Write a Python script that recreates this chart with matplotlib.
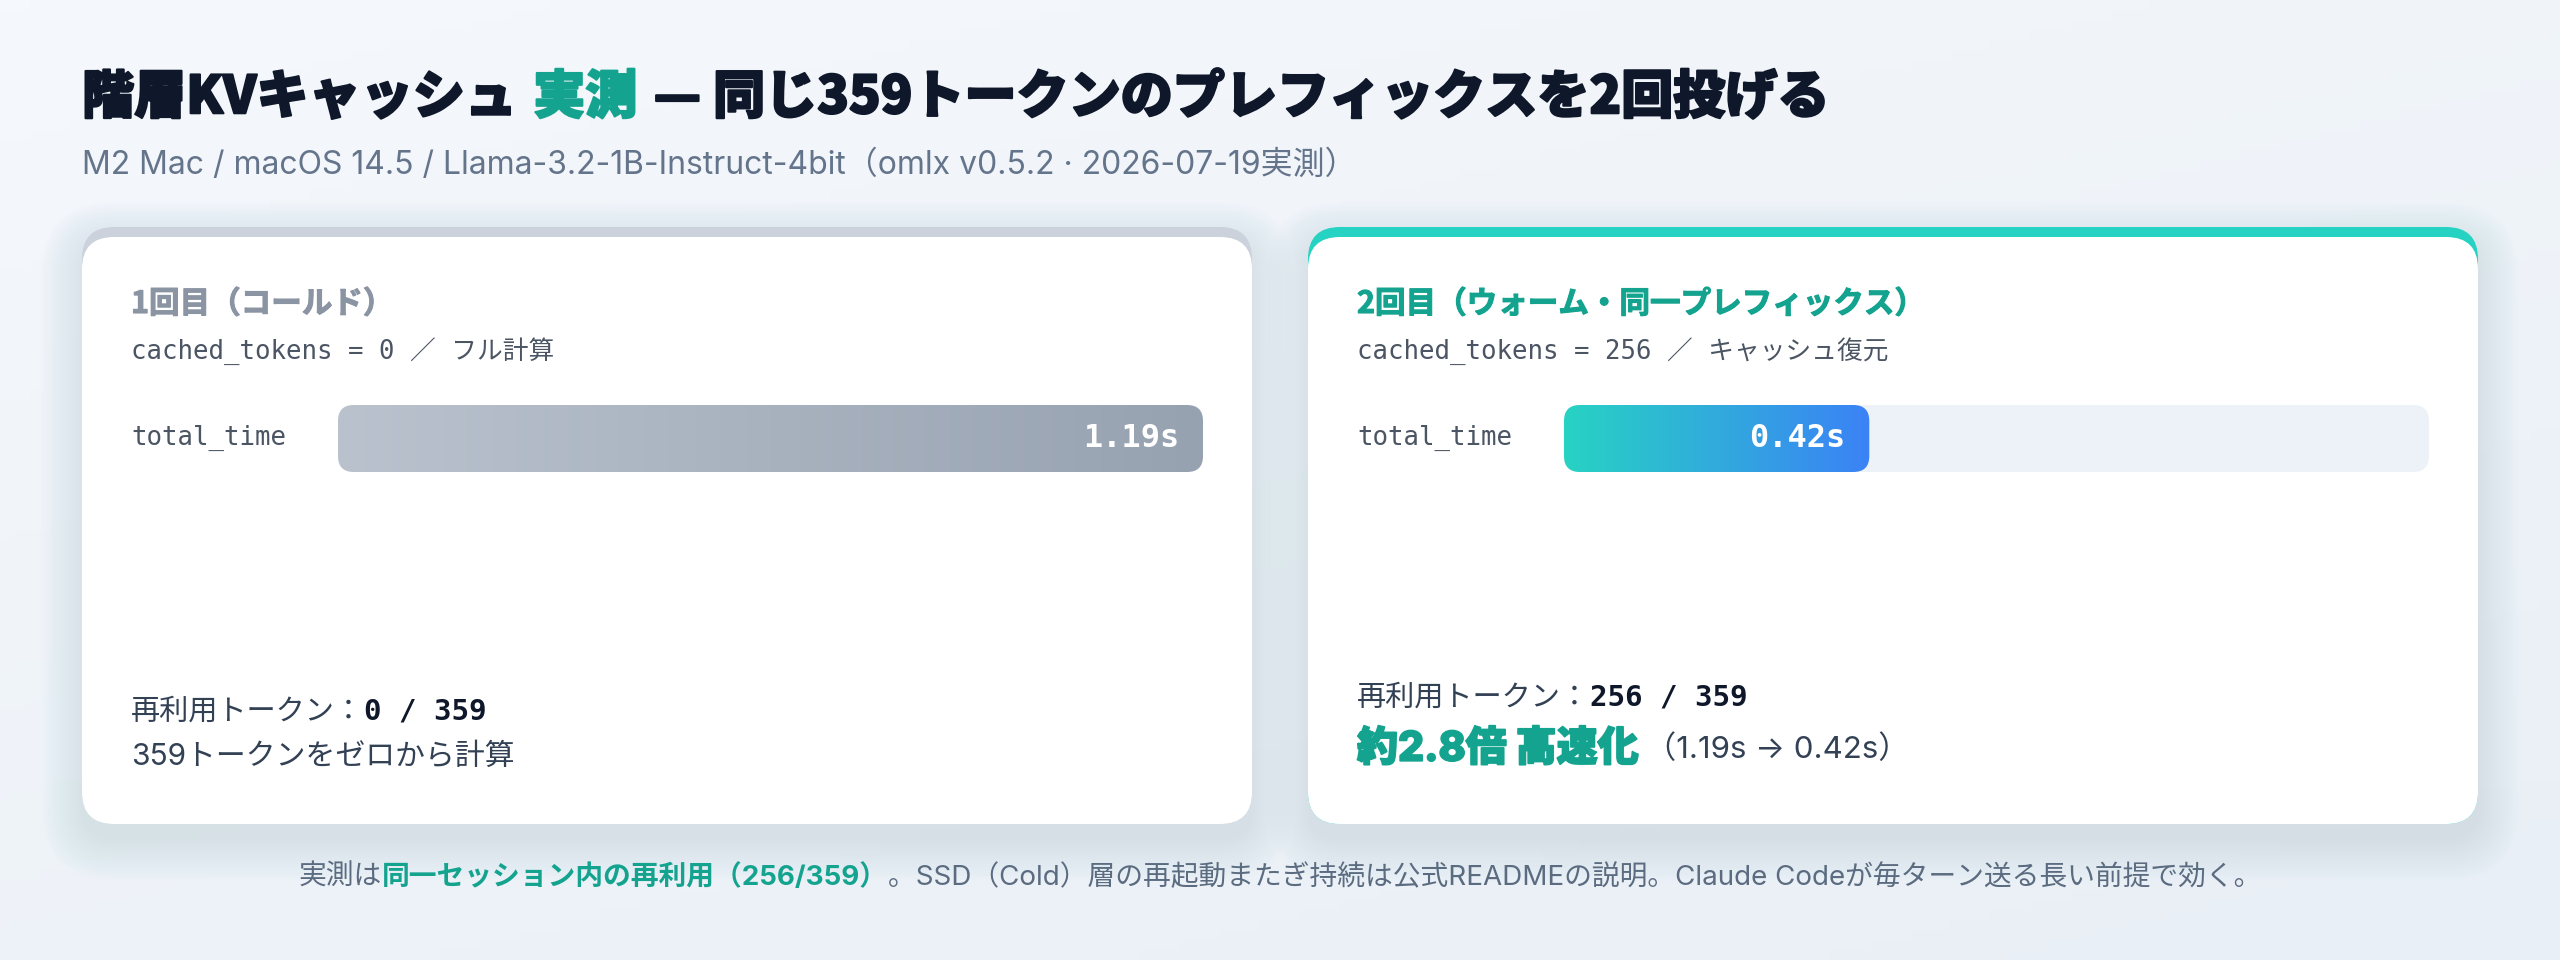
import numpy as np
import matplotlib
matplotlib.use("Agg")
import matplotlib.pyplot as plt
from matplotlib.patches import FancyBboxPatch
from matplotlib.colors import LinearSegmentedColormap
import matplotlib.transforms as mtransforms
import matplotlib.patheffects as pe

# ---------------- data ----------------
run_titles = ["1回目（コールド）", "2回目（ウォーム・同一プレフィックス）"]
cache_notes = ["フル計算", "キャッシュ復元"]
total_time = [1.19, 0.42]          # seconds
cached_tokens = [0, 256]
prefix_tokens = 359
metric_label = "total_time"

title_parts = ["階層KVキャッシュ", "実測", "— 同じ359トークンのプレフィックスを2回投げる"]
subtitle = "M2 Mac / macOS 14.5 / Llama-3.2-1B-Instruct-4bit（omlx v0.5.2 · 2026-07-19実測）"
left_note = "359トークンをゼロから計算"
speedup_text = "約2.8倍 高速化"
speedup_detail = "（1.19s → 0.42s）"
footer_parts = ["実測は", "同一セッション内の再利用（256/359）",
                "。SSD（Cold）層の再起動またぎ持続は公式READMEの説明。Claude Codeが毎ターン送る長い前提で効く。"]

# ---------------- style ----------------
JP = ["Noto Sans CJK JP", "DejaVu Sans"]
LJP = ["Inter", "Noto Sans CJK JP", "DejaVu Sans"]
MONO = ["DejaVu Sans Mono", "Noto Sans CJK JP"]
DARK = "#0f172a"
TEAL = "#14a38f"
GRAY_TITLE = "#8b94a3"
MONO_COL = "#4b5563"
BODY = "#334155"
FOOT = "#5b6b80"

W, H = 2560, 960
fig = plt.figure(figsize=(25.6, 9.6), dpi=100)
ax = fig.add_axes([0, 0, 1, 1])
ax.set_xlim(0, W)
ax.set_ylim(H, 0)
ax.axis("off")

# background gradient
gx = np.linspace(0, 1, 256)
gy = np.linspace(0, 1, 96)
G = 0.6 * gy[:, None] + 0.4 * gx[None, :]
bg_cmap = LinearSegmentedColormap.from_list("bg", ["#f5f8fc", "#e9eff6"])
ax.imshow(G, cmap=bg_cmap, extent=(0, W, H, 0), aspect="auto", zorder=0)

renderer = fig.canvas.get_renderer()


def clean(kw):
    return {k: v for k, v in kw.items() if not k.startswith("_")}


def runs2(x, y, parts, ha="left", va="center"):
    texts, gaps = [], []
    for s, kw in parts:
        t = ax.text(0, y, s, va=va, ha="left", zorder=10, **clean(kw))
        texts.append(t)
        gaps.append(kw.get("_gap", 0))
    widths = [t.get_window_extent(renderer).width for t in texts]
    total = sum(widths) + sum(gaps)
    cx = x - total / 2 if ha == "center" else x
    for t, w, g in zip(texts, widths, gaps):
        t.set_x(cx)
        cx += w + g
    return texts


def rbox(x, y, w, h, r, **kw):
    p = FancyBboxPatch((x, y), w, h, boxstyle=f"round,pad=0,rounding_size={r}", **kw)
    ax.add_patch(p)
    return p


def card(x0, y0, x1, y1, band):
    w, h = x1 - x0, y1 - y0
    for k in range(18):
        s = k * 2.4
        rbox(x0 - s, y0 + 16 - s, w + 2 * s, h + 2 * s, 32 + s,
             fc="#64748b", ec="none", alpha=0.007, zorder=1)
    rbox(x0, y0, w, h, 32, fc=band, ec="none", zorder=2)
    rbox(x0, y0 + 10, w, h - 10, 32, fc="white", ec="none", zorder=3)


heavy = lambda c, lw=1.5: [pe.withStroke(linewidth=lw, foreground=c)]

# title
runs2(82, 98, [
    (title_parts[0], dict(fontsize=37.5, fontweight="heavy", color=DARK, family=JP, _gap=16,
                          path_effects=heavy(DARK))),
    (title_parts[1], dict(fontsize=37.5, fontweight="heavy", color=TEAL, family=JP, _gap=16,
                          path_effects=heavy(TEAL))),
    (title_parts[2], dict(fontsize=37.5, fontweight="heavy", color=DARK, family=JP,
                          path_effects=heavy(DARK))),
])
ax.text(82, 165, subtitle, fontsize=23, color="#64748b", family=LJP, va="center", zorder=10)

cards = [(82, 227, 1252, 824), (1308, 227, 2478, 824)]
bands = ["#cbd2dc", "#26d3c3"]
title_cols = [GRAY_TITLE, TEAL]
bar_cmaps = [LinearSegmentedColormap.from_list("b0", ["#b9c2cd", "#97a2b1"]),
             LinearSegmentedColormap.from_list("b1", ["#27d3c3", "#3b82f6"])]
tmax = max(total_time)

for i, (x0, y0, x1, y1) in enumerate(cards):
    card(x0, y0, x1, y1, bands[i])
    tx = x0 + 49
    ax.text(tx, 304, run_titles[i], fontsize=22, fontweight="bold", color=title_cols[i],
            family=JP, va="center", zorder=10,
            path_effects=[pe.withStroke(linewidth=0.8, foreground=title_cols[i])])
    ax.text(tx, 351, f"cached_tokens = {cached_tokens[i]} ／ {cache_notes[i]}", fontsize=18.5,
            color=MONO_COL, family=MONO, va="center", zorder=10)
    ax.text(tx, 438, metric_label, fontsize=18.5, color=MONO_COL, family=MONO,
            va="center", zorder=10)

    # bar axes
    bx0, bx1, by0, by1 = x0 + 256, x0 + 1121, 405, 472
    bax = fig.add_axes([bx0 / W, 1 - by1 / H, (bx1 - bx0) / W, (by1 - by0) / H])
    bax.axis("off")
    bax.set_zorder(5)
    px_per_x = (bx1 - bx0) / tmax
    px_per_y = (by1 - by0)
    r_px = 16
    rx = r_px / px_per_x
    asp = (r_px / px_per_y) / rx
    track = FancyBboxPatch((0, 0), tmax, 1, boxstyle=f"round,pad=0,rounding_size={rx}",
                           mutation_aspect=asp, fc="#edf2f8", ec="none", zorder=0.5)
    bax.add_patch(track)
    clip = FancyBboxPatch((0, 0), total_time[i], 1, boxstyle=f"round,pad=0,rounding_size={rx}",
                          mutation_aspect=asp, fc="none", ec="none", zorder=0.6)
    bax.add_patch(clip)
    im = bax.imshow(np.linspace(0, 1, 256).reshape(1, -1), cmap=bar_cmaps[i],
                    extent=(0, total_time[i], 0, 1), aspect="auto", zorder=2)
    im.set_clip_path(clip)
    bax.set_xlim(0, tmax)
    bax.set_ylim(0, 1)
    off = mtransforms.offset_copy(bax.transData, fig=fig, x=-24, y=0, units="dots")
    bax.text(total_time[i], 0.5, f"{total_time[i]:.2f}s", transform=off, ha="right", va="center",
             fontsize=23, fontweight="bold", color="white", family=MONO, zorder=3)

# left card bottom texts
runs2(131, 712, [
    ("再利用トークン：", dict(fontsize=21, color=BODY, family=JP)),
    (f"{cached_tokens[0]} / {prefix_tokens}", dict(fontsize=21, fontweight="bold", color=DARK, family=MONO)),
])
ax.text(131, 757, left_note, fontsize=21.5, color=BODY, family=LJP, va="center", zorder=10)

# right card bottom texts
runs2(1357, 698, [
    ("再利用トークン：", dict(fontsize=21, color=BODY, family=JP)),
    (f"{cached_tokens[1]} / {prefix_tokens}", dict(fontsize=21, fontweight="bold", color=DARK, family=MONO)),
])
runs2(1357, 749, [
    (speedup_text, dict(fontsize=29.5, fontweight="heavy", color=TEAL, family=LJP, _gap=6,
                        path_effects=heavy(TEAL, 1.3))),
    (speedup_detail, dict(fontsize=22.5, color=BODY, family=LJP)),
])

# footer
runs2(1280, 878, [
    (footer_parts[0], dict(fontsize=20, color=FOOT, family=LJP)),
    (footer_parts[1], dict(fontsize=20, fontweight="bold", color=TEAL, family=LJP)),
    (footer_parts[2], dict(fontsize=20, color=FOOT, family=LJP)),
], ha="center")

fig.savefig("out.png", dpi=100)
